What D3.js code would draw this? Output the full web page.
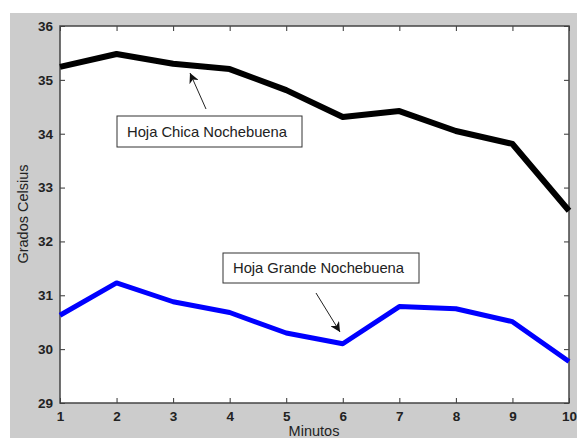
<!DOCTYPE html>
<html>
<head>
<meta charset="utf-8">
<script src="https://cdn.jsdelivr.net/npm/d3@7"></script>
<style>
  body { margin: 0; background: #fff; }
  svg { display: block; font-family: "Liberation Sans", Arial, sans-serif; }
</style>
</head>
<body>
<script>
const minutos = [1, 2, 3, 4, 5, 6, 7, 8, 9, 10]
const hojaChica = [35.24, 35.48, 35.3, 35.2, 34.81, 34.31, 34.42, 34.05, 33.81, 32.57]
const hojaGrande = [30.63, 31.23, 30.88, 30.68, 30.3, 30.1, 30.79, 30.75, 30.51, 29.77]
const yTicks = [29, 30, 31, 32, 33, 34, 35, 36]

const W = 577, H = 438
const margin = { top: 26, right: 8, bottom: 35, left: 60 }

const svg = d3.select("body").append("svg")
    .attr("width", W)
    .attr("height", H)

// gray figure background
svg.append("rect")
    .attr("x", 10).attr("y", 13)
    .attr("width", W - 10).attr("height", H - 13)
    .attr("fill", "#cccccc")

const x = d3.scaleLinear().domain([1, 10]).range([margin.left, W - margin.right])
const y = d3.scaleLinear().domain([29, 36]).range([H - margin.bottom, margin.top])

svg.append("rect")
    .attr("x", x(1)).attr("y", y(36))
    .attr("width", x(10) - x(1)).attr("height", y(29) - y(36))
    .attr("fill", "#fff")

const axisStyle = g => {
    g.select(".domain").remove()
    g.selectAll("line").attr("stroke", "#333").attr("stroke-width", 1)
    g.selectAll("text").attr("fill", "#222").attr("font-size", 13.5).attr("font-weight", "bold")
}

svg.append("g")
    .attr("transform", `translate(0,${y(29)})`)
    .call(d3.axisBottom(x).tickValues(minutos).tickFormat(d3.format("d")).tickSizeInner(-5).tickSizeOuter(0).tickPadding(8))
    .call(axisStyle)
svg.append("g")
    .attr("transform", `translate(0,${y(36)})`)
    .call(d3.axisTop(x).tickValues(minutos).tickFormat("").tickSizeInner(-5).tickSizeOuter(0))
    .call(axisStyle)
svg.append("g")
    .attr("transform", `translate(${x(1)},0)`)
    .call(d3.axisLeft(y).tickValues(yTicks).tickFormat(d3.format("d")).tickSizeInner(-5).tickSizeOuter(0).tickPadding(7))
    .call(axisStyle)
svg.append("g")
    .attr("transform", `translate(${x(10)},0)`)
    .call(d3.axisRight(y).tickValues(yTicks).tickFormat("").tickSizeInner(-5).tickSizeOuter(0))
    .call(axisStyle)

// plot frame
svg.append("rect")
    .attr("x", x(1)).attr("y", y(36))
    .attr("width", x(10) - x(1)).attr("height", y(29) - y(36))
    .attr("fill", "none").attr("stroke", "#444").attr("stroke-width", 1.5)

const line = d3.line()
    .x((d, i) => x(minutos[i]))
    .y(d => y(d))

svg.append("path")
    .datum(hojaChica)
    .attr("d", line)
    .attr("fill", "none")
    .attr("stroke", "#000")
    .attr("stroke-width", 6)
    .attr("stroke-linejoin", "round")

svg.append("path")
    .datum(hojaGrande)
    .attr("d", line)
    .attr("fill", "none")
    .attr("stroke", "#0000ff")
    .attr("stroke-width", 5)
    .attr("stroke-linejoin", "round")

// annotations
svg.append("defs").append("marker")
    .attr("id", "arrow")
    .attr("viewBox", "0 0 10 10")
    .attr("refX", 10).attr("refY", 5)
    .attr("markerWidth", 10).attr("markerHeight", 10)
    .attr("markerUnits", "userSpaceOnUse")
    .attr("orient", "auto")
    .append("path")
    .attr("d", "M0,0 L10,5 L0,10 L3,5 Z")
    .attr("fill", "#111")

function note(label, bx, by, bw, bh, ax1, ay1, ax2, ay2) {
    svg.append("line")
        .attr("x1", ax1).attr("y1", ay1)
        .attr("x2", ax2).attr("y2", ay2)
        .attr("stroke", "#222").attr("stroke-width", 1)
        .attr("marker-end", "url(#arrow)")
    svg.append("rect")
        .attr("x", bx).attr("y", by)
        .attr("width", bw).attr("height", bh)
        .attr("fill", "#fff").attr("stroke", "#333").attr("stroke-width", 1)
    svg.append("text")
        .attr("x", bx + 10).attr("y", by + bh / 2 + 5)
        .attr("font-size", 14.8).attr("fill", "#222")
        .attr("textLength", bw - 25)
        .text(label)
}

note("Hoja Chica Nochebuena", 117, 116, 185, 31, 206, 109, 190, 73)
note("Hoja Grande Nochebuena", 223, 253, 196, 30, 316, 293, 340, 332)

svg.append("text")
    .attr("transform", `translate(28,214) rotate(-90)`)
    .attr("text-anchor", "middle")
    .attr("font-size", 14.5).attr("fill", "#222")
    .text("Grados Celsius")

svg.append("text")
    .attr("x", 314).attr("y", 436)
    .attr("text-anchor", "middle")
    .attr("font-size", 14.5).attr("fill", "#222")
    .text("Minutos")
</script>
</body>
</html>
